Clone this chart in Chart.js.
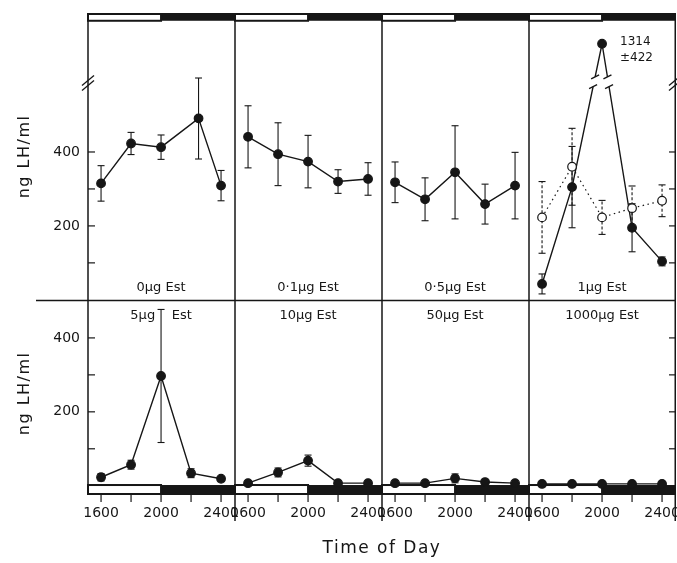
<!DOCTYPE html>
<html>
<head>
<meta charset="utf-8">
<script src="https://cdn.jsdelivr.net/npm/chart.js@4.4.1/dist/chart.umd.min.js"></script>
<style>
  html, body { margin: 0; padding: 0; background: #fff; }
  #wrap { position: relative; width: 677px; height: 563px; }
</style>
</head>
<body>
<div id="wrap"><canvas id="lhChart" width="677" height="563"></canvas></div>
<script>
// Sampling times (hours, 24h clock) and x tick labels
const sampleHours = [16, 18, 20, 22, 24];
const controlHours = [16, 18, 20, 22.5, 24];   // 0µg 2200 point is plotted a bit late
const tickHours = [16, 18, 20, 22, 24];
const tickLabels = ["1600", "", "2000", "", "2400"];

const topDoses = ["0µg Est", "0·1µg Est", "0·5µg Est", "1µg Est"];
const bottomDoses = ["5µg    Est", "10µg Est", "50µg Est", "1000µg Est"];

const yTicks = [100, 200, 300, 400];
const yTickLabels = ["", "200", "", "400"];

// LH (ng/ml), mean and SEM
const lh0 = [315, 423, 413, 491, 309];
const sem0 = [48, 30, 33, 110, 41];
const lh01 = [441, 394, 374, 320, 327];
const sem01 = [84, 85, 71, 32, 44];
const lh05 = [318, 272, 345, 259, 309];
const sem05 = [55, 58, 126, 54, 90];
const lh1 = [43, 305, 1314, 195, 104];
const sem1 = [27, 110, 422, 65, 12];
const lh1Open = [223, 360, 223, 248, 268];
const sem1Open = [97, 104, 46, 60, 43];
const lh5 = [23, 57, 297, 34, 19];
const sem5 = [10, 12, 180, 12, 6];
const lh10 = [7, 36, 68, 7, 7];
const sem10 = [4, 12, 15, 4, 4];
const lh50 = [7, 7, 20, 10, 7];
const sem50 = [0, 0, 12, 4, 0];
const lh1000 = [5, 5, 5, 5, 5];
const sem1000 = [0, 0, 0, 0, 0];

const INK = "#161616";
const FONT = "'DejaVu Sans', sans-serif";

// panels sit side by side on one x axis, rows stacked on one y axis
const X_LEFT = 15.13;      // hour at left edge of each panel
const PANEL_W = 9.8;       // hours per panel
const TOP_BASE = 503;      // y offset of the top row
const TOP_MAX = 776;
const BREAK_AT = 600;      // top row axis is broken above this
const BREAK_SCALE = 0.13;
const BREAK_MARK = 585;

function plotX(col, h) { return col * PANEL_W + h - X_LEFT; }
function plotY(row, v) {
    if (row === 1) return v;
    if (v > BREAK_AT) v = BREAK_AT + (v - BREAK_AT) * BREAK_SCALE;
    return TOP_BASE + v;
}

const panels = [
    { row: 0, col: 0, hours: controlHours, mean: lh0, sem: sem0 },
    { row: 0, col: 1, hours: sampleHours, mean: lh01, sem: sem01 },
    { row: 0, col: 2, hours: sampleHours, mean: lh05, sem: sem05 },
    { row: 0, col: 3, hours: sampleHours, mean: lh1Open, sem: sem1Open, open: true },
    { row: 0, col: 3, hours: sampleHours, mean: lh1, sem: sem1, broken: true },
    { row: 1, col: 0, hours: sampleHours, mean: lh5, sem: sem5 },
    { row: 1, col: 1, hours: sampleHours, mean: lh10, sem: sem10 },
    { row: 1, col: 2, hours: sampleHours, mean: lh50, sem: sem50 },
    { row: 1, col: 3, hours: sampleHours, mean: lh1000, sem: sem1000 }
];

const datasets = panels.map(p => ({
    data: p.hours.map((h, i) => ({ x: plotX(p.col, h), y: plotY(p.row, p.mean[i]) })),
    borderColor: INK,
    borderWidth: p.open ? 1.2 : 1.4,
    borderDash: p.open ? [1.5, 3.5] : [],
    pointRadius: 4.3,
    pointBorderWidth: 1.2,
    pointBackgroundColor: p.open ? "#fff" : INK,
    pointBorderColor: INK,
    tension: 0
}));

function line(ctx, x1, y1, x2, y2) {
    ctx.beginPath();
    ctx.moveTo(x1, y1);
    ctx.lineTo(x2, y2);
    ctx.stroke();
}

// no extra room for half labels at the chart edges
function noPad(s) {
    s.paddingLeft = 0;
    s.paddingRight = 0;
    s.paddingTop = 0;
    s.paddingBottom = 0;
}

// frame, light/dark bars, tick marks and error bars
const framePlugin = {
    id: "frame",
    beforeDatasetsDraw(chart) {
        const { ctx, chartArea: a, scales: { x, y } } = chart;
        ctx.save();
        ctx.strokeStyle = INK;
        ctx.fillStyle = INK;

        const topBarBottom = y.getPixelForValue(TOP_BASE + 755);
        const botBarTop = y.getPixelForValue(2);
        for (let c = 0; c < 4; c++) {
            const xl = x.getPixelForValue(plotX(c, X_LEFT));
            const xm = x.getPixelForValue(plotX(c, 20));
            const xr = x.getPixelForValue(plotX(c, X_LEFT + PANEL_W));
            ctx.fillRect(xm, a.top, xr - xm, topBarBottom - a.top);
            ctx.fillRect(xm, botBarTop, xr - xm, a.bottom - botBarTop);
            ctx.lineWidth = 2;
            ctx.strokeRect(xl, a.top + 1, xm - xl, topBarBottom - a.top - 1);
            ctx.strokeRect(xl, botBarTop, xm - xl, a.bottom - botBarTop - 1);
        }

        // panel frame
        ctx.lineWidth = 1.5;
        line(ctx, a.left, a.top, a.left, a.bottom);
        for (let c = 1; c <= 4; c++) {
            const xd = Math.min(x.getPixelForValue(plotX(c, X_LEFT)), a.right - 0.75);
            line(ctx, xd, a.top, xd, a.bottom + 26);
        }
        const ySep = y.getPixelForValue(TOP_BASE - 1.5);
        line(ctx, 36, ySep, a.right, ySep);

        // inward y ticks on left and right edges
        ctx.lineWidth = 1.2;
        [0, 1].forEach(row => {
            yTicks.forEach(v => {
                const yy = y.getPixelForValue(plotY(row, v));
                line(ctx, a.left, yy, a.left + 7, yy);
                line(ctx, a.right, yy, a.right - 7, yy);
            });
        });

        // x tick marks under the bar
        x.ticks.forEach(t => {
            const xx = x.getPixelForValue(t.value);
            line(ctx, xx, a.bottom, xx, a.bottom + 7);
        });

        // axis breaks on top row
        const yb = y.getPixelForValue(plotY(0, BREAK_MARK));
        [a.left, a.right - 1].forEach(xa => {
            ctx.lineWidth = 1.3;
            line(ctx, xa - 6, yb + 2, xa + 6, yb - 8);
            line(ctx, xa - 6, yb + 7, xa + 6, yb - 3);
        });

        // error bars
        ctx.lineWidth = 1.1;
        panels.forEach(p => {
            p.mean.forEach((m, i) => {
                if (m > BREAK_AT || p.sem[i] <= 0) return;
                const xx = x.getPixelForValue(plotX(p.col, p.hours[i]));
                const hi = y.getPixelForValue(plotY(p.row, m + p.sem[i]));
                const lo = y.getPixelForValue(plotY(p.row, Math.max(m - p.sem[i], -20)));
                ctx.setLineDash(p.open ? [3, 2] : []);
                line(ctx, xx, lo, xx, hi);
                ctx.setLineDash([]);
                line(ctx, xx - 3.5, hi, xx + 3.5, hi);
                line(ctx, xx - 3.5, lo, xx + 3.5, lo);
            });
        });
        ctx.restore();
    }
};

// break marks on lines, labels and titles
const textPlugin = {
    id: "panelText",
    afterDatasetsDraw(chart) {
        const { ctx, chartArea: a, scales: { x, y } } = chart;
        ctx.save();

        const yb = y.getPixelForValue(plotY(0, BREAK_MARK + 5));
        panels.forEach((p, di) => {
            if (!p.broken) return;
            const pts = chart.getDatasetMeta(di).data;
            for (let i = 0; i < pts.length - 1; i++) {
                const p1 = pts[i], p2 = pts[i + 1];
                if ((p1.y - yb) * (p2.y - yb) >= 0) continue;
                const t = (yb - p1.y) / (p2.y - p1.y);
                const cx = p1.x + t * (p2.x - p1.x);
                const len = Math.hypot(p2.x - p1.x, p2.y - p1.y);
                const ux = (p2.x - p1.x) / len, uy = (p2.y - p1.y) / len;
                ctx.strokeStyle = "#fff";
                ctx.lineWidth = 4;
                line(ctx, cx - ux * 5, yb - uy * 5, cx + ux * 5, yb + uy * 5);
                ctx.strokeStyle = INK;
                ctx.lineWidth = 1.3;
                [-5, 5].forEach(d => {
                    const sx = cx + ux * d, sy = yb + uy * d;
                    line(ctx, sx - 4, sy + 2, sx + 4, sy - 2);
                });
            }
        });

        ctx.fillStyle = INK;
        ctx.textAlign = "center";
        ctx.textBaseline = "middle";
        ctx.font = "13px " + FONT;
        const topLabelY = y.getPixelForValue(TOP_BASE) - 12;
        const botLabelY = y.getPixelForValue(500) + 15;
        topDoses.forEach((t, c) => ctx.fillText(t, x.getPixelForValue(plotX(c, 20)), topLabelY));
        bottomDoses.forEach((t, c) => ctx.fillText(t, x.getPixelForValue(plotX(c, 20)), botLabelY));

        // peak value of the 1µg group
        const peakIdx = panels.findIndex(p => p.broken);
        const pk = chart.getDatasetMeta(peakIdx).data[2];
        ctx.textAlign = "left";
        ctx.font = "12px " + FONT;
        ctx.fillText(String(lh1[2]), pk.x + 18, pk.y - 2);
        ctx.fillText("±" + sem1[2], pk.x + 18, pk.y + 14);

        // axis titles
        ctx.textAlign = "center";
        ctx.font = "16px " + FONT;
        ctx.letterSpacing = "1.5px";
        const rowMid = [
            (a.top + y.getPixelForValue(TOP_BASE)) / 2,
            (y.getPixelForValue(500) + y.getPixelForValue(0)) / 2
        ];
        rowMid.forEach(ym => {
            ctx.save();
            ctx.translate(25, ym);
            ctx.rotate(-Math.PI / 2);
            ctx.fillText("ng LH/ml", 0, 0);
            ctx.restore();
        });
        ctx.font = "17px " + FONT;
        ctx.fillText("Time of Day", (a.left + a.right) / 2, 549);
        ctx.restore();
    }
};

new Chart(document.getElementById("lhChart"), {
    type: "line",
    data: { datasets: datasets },
    options: {
        responsive: false,
        animation: false,
        layout: { autoPadding: false, padding: { top: 13, right: 1, left: 0, bottom: 0 } },
        plugins: {
            legend: { display: false },
            tooltip: { enabled: false }
        },
        scales: {
            x: {
                type: "linear",
                min: 0,
                max: 4 * PANEL_W,
                afterFit: s => { s.height = 68; noPad(s); },
                afterBuildTicks: s => {
                    const ticks = [];
                    for (let c = 0; c < 4; c++) {
                        tickHours.forEach(h => ticks.push({ value: plotX(c, h) }));
                    }
                    s.ticks = ticks;
                },
                ticks: {
                    autoSkip: false,
                    maxRotation: 0,
                    padding: 10,
                    color: INK,
                    font: { family: FONT, size: 14 },
                    callback: (v, i) => tickLabels[i % tickHours.length]
                },
                grid: { display: false, drawTicks: false },
                border: { display: false }
            },
            y: {
                type: "linear",
                min: -25,
                max: TOP_BASE + TOP_MAX,
                afterFit: s => { s.width = 88; noPad(s); },
                afterBuildTicks: s => {
                    s.ticks = yTicks.map(v => ({ value: plotY(1, v) }))
                        .concat(yTicks.map(v => ({ value: plotY(0, v) })));
                },
                ticks: {
                    padding: 8,
                    color: INK,
                    font: { family: FONT, size: 14 },
                    callback: (v, i) => yTickLabels[i % yTicks.length]
                },
                grid: { display: false, drawTicks: false },
                border: { display: false }
            }
        }
    },
    plugins: [framePlugin, textPlugin]
});
</script>
</body>
</html>
